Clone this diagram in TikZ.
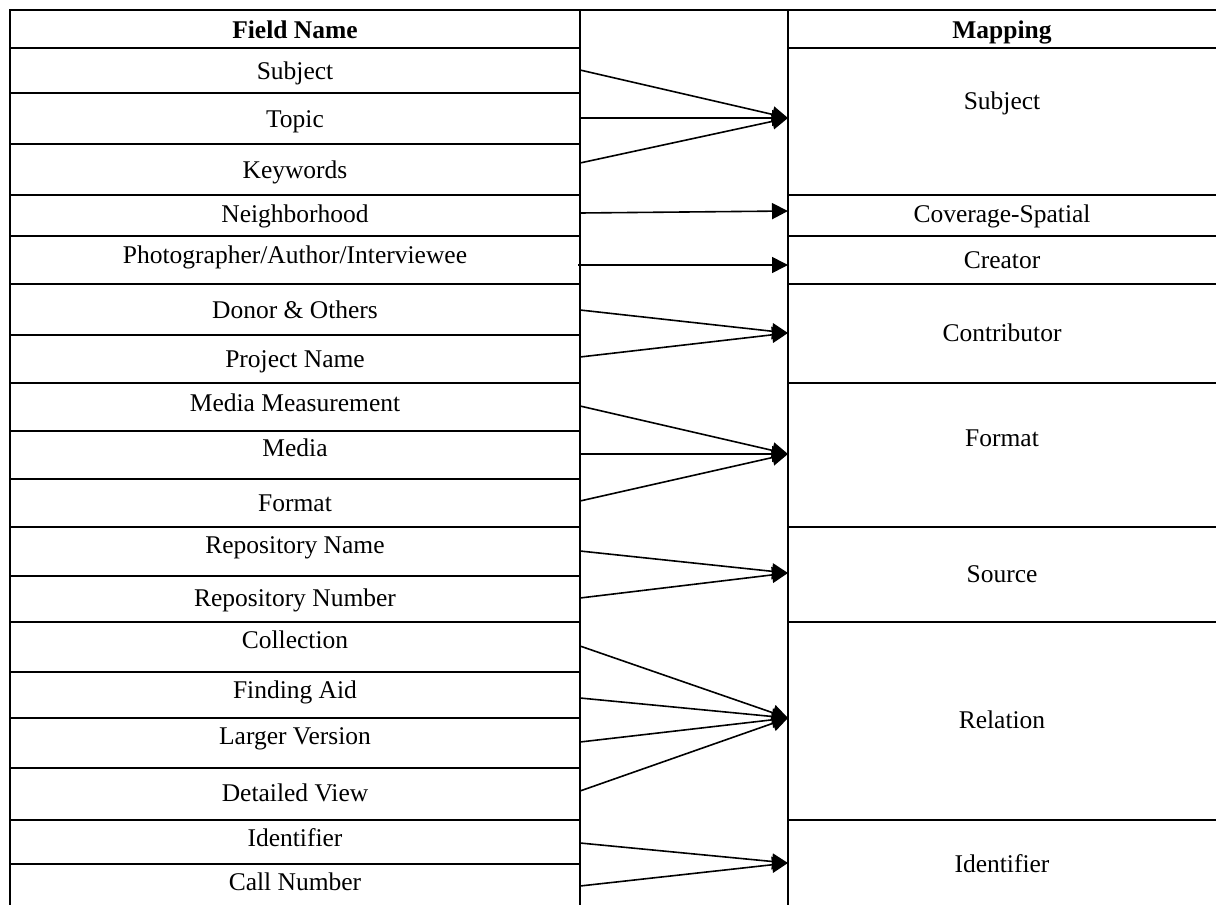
\documentclass[tikz,border=0pt]{standalone}
\usepackage{fontspec}
\setmainfont{Liberation Serif}
\usetikzlibrary{arrows.meta}
\begin{document}
\begin{tikzpicture}[x=1pt,y=-1pt,
  gridline/.style={line width=1.8pt},
  midline/.style={line width=2.4pt},
  lbl/.style={font=\fontsize{25.5}{27}\selectfont, inner sep=0pt, anchor=base},
  conn/.style={line width=1.6pt, -{Triangle[length=16pt,width=16pt]}}]
\useasboundingbox (0,0) rectangle (1216,905);
% borders
\draw[gridline] (10,905) -- (10,10) -- (1216,10);
\draw[midline] (580,10) -- (580,905);
\draw[midline] (788,10) -- (788,905);
% left horizontal lines
\foreach \y in {48,93,144,195,236,284,335,383,431,479,527,576,622,672,718,768,820,864}
  \draw[gridline] (10,\y) -- (580,\y);
% right horizontal lines
\foreach \y in {48,195,236,284,383,527,622,820}
  \draw[gridline] (788,\y) -- (1216,\y);
% left labels
\node[lbl] (hL) at (295,38) {\bfseries Field Name};
\node[lbl] (l1) at (295,79) {Subject};
\node[lbl] (l2) at (295,127) {Topic};
\node[lbl] (l3) at (295,178) {Keywords};
\node[lbl] (l4) at (295,222) {Neighborhood};
\node[lbl] (l5) at (295,263) {Photographer/Author/Interviewee};
\node[lbl] (l6) at (295,318) {Donor \& Others};
\node[lbl] (l7) at (295,367) {Project Name};
\node[lbl] (l8) at (295,411) {Media Measurement};
\node[lbl] (l9) at (295,456) {Media};
\node[lbl] (l10) at (295,511) {Format};
\node[lbl] (l11) at (295,553) {Repository Name};
\node[lbl] (l12) at (295,606) {Repository Number};
\node[lbl] (l13) at (295,648) {Collection};
\node[lbl] (l14) at (295,698) {Finding Aid};
\node[lbl] (l15) at (295,744) {Larger Version};
\node[lbl] (l16) at (295,801) {Detailed View};
\node[lbl] (l17) at (295,846) {Identifier};
\node[lbl] (l18) at (295,890) {Call Number};
% right labels
\node[lbl] (hR) at (1002,38) {\bfseries Mapping};
\node[lbl] (r1) at (1002,109) {Subject};
\node[lbl] (r2) at (1002,222) {Coverage-Spatial};
\node[lbl] (r3) at (1002,268) {Creator};
\node[lbl] (r4) at (1002,341) {Contributor};
\node[lbl] (r5) at (1002,446) {Format};
\node[lbl] (r6) at (1002,582) {Source};
\node[lbl] (r7) at (1002,728) {Relation};
\node[lbl] (r8) at (1002,872) {Identifier};
% connector start points
\coordinate (s1) at (580,70);
\coordinate (s2) at (580,118);
\coordinate (s3) at (580,163);
\coordinate (s4) at (580,213);
\coordinate (s5) at (578,265);
\coordinate (s6) at (580,310);
\coordinate (s7) at (580,357);
\coordinate (s8) at (580,406);
\coordinate (s9) at (580,454);
\coordinate (s10) at (580,501);
\coordinate (s11) at (580,551);
\coordinate (s12) at (580,598);
\coordinate (s13) at (580,646);
\coordinate (s14) at (580,698);
\coordinate (s15) at (580,742);
\coordinate (s16) at (580,791);
\coordinate (s17) at (580,843);
\coordinate (s18) at (580,886);
% connector end points
\coordinate (t1) at (788,118);
\coordinate (t2) at (788,211);
\coordinate (t3) at (788,265);
\coordinate (t4) at (788,333);
\coordinate (t5) at (788,454);
\coordinate (t6) at (788,573);
\coordinate (t7) at (788,718);
\coordinate (t8) at (788,863);
% connectors
\draw[conn] (s1) -- (t1);
\draw[conn] (s2) -- (t1);
\draw[conn] (s3) -- (t1);
\draw[conn] (s4) -- (t2);
\draw[conn] (s5) -- (t3);
\draw[conn] (s6) -- (t4);
\draw[conn] (s7) -- (t4);
\draw[conn] (s8) -- (t5);
\draw[conn] (s9) -- (t5);
\draw[conn] (s10) -- (t5);
\draw[conn] (s11) -- (t6);
\draw[conn] (s12) -- (t6);
\draw[conn] (s13) -- (t7);
\draw[conn] (s14) -- (t7);
\draw[conn] (s15) -- (t7);
\draw[conn] (s16) -- (t7);
\draw[conn] (s17) -- (t8);
\draw[conn] (s18) -- (t8);
\end{tikzpicture}
\end{document}
